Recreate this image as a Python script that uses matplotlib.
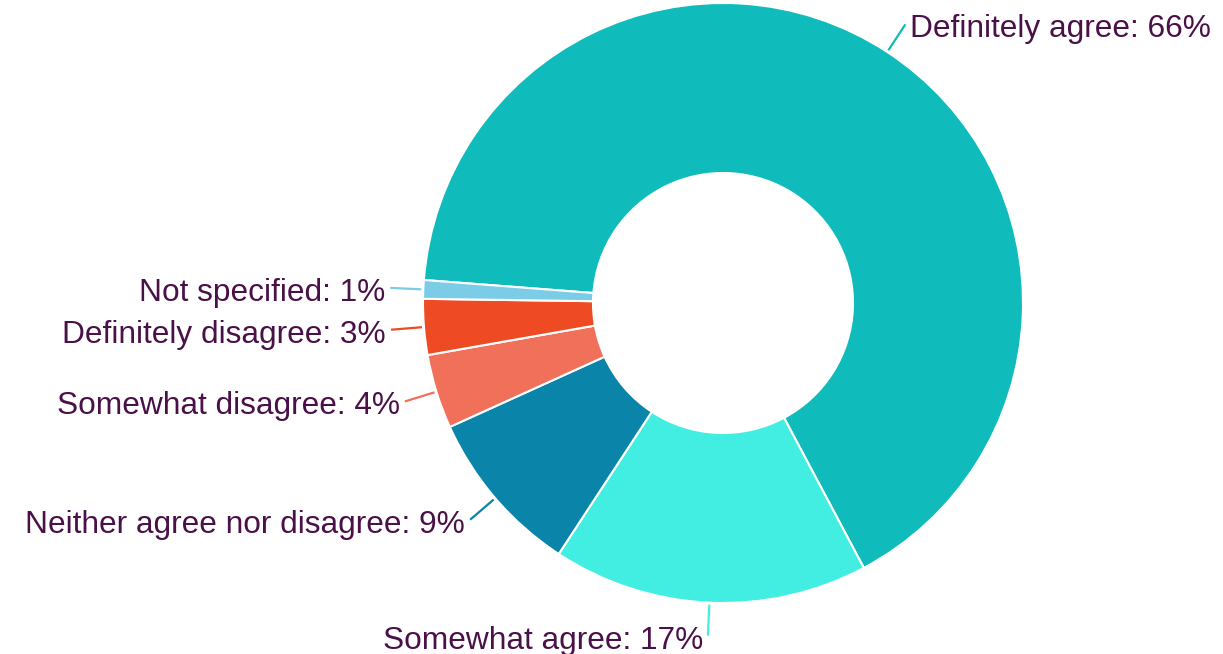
import numpy as np
import matplotlib
matplotlib.use('Agg')
import matplotlib.pyplot as plt

plt.rcParams['font.family'] = ['Liberation Sans', 'DejaVu Sans']

labels = ['Definitely agree', 'Somewhat agree', 'Neither agree nor disagree',
          'Somewhat disagree', 'Definitely disagree', 'Not specified']
values = [66, 17, 9, 4, 3, 1]
colors = ['#0fbbbb', '#42eee1', '#0b84a9', '#f1705a', '#ee4a24', '#7bcce6']

text_color = '#4a1148'
W, H = 1223, 654
cx, cy = 723, 654 - 303
R, r_in = 300, 130
start = 175.6  # degrees, counter-clockwise from +x; slices go clockwise

fig = plt.figure(figsize=(W / 100, H / 100), dpi=100)
ax = fig.add_axes([0, 0, 1, 1])

wedges, _ = ax.pie(values, colors=colors, startangle=start, counterclock=False,
                   center=(cx, cy), radius=R,
                   wedgeprops=dict(width=R - r_in, edgecolor='white', linewidth=1.5))

ax.set_xlim(0, W)
ax.set_ylim(0, H)
ax.set_aspect('equal')
ax.axis('off')

# leader lines and labels, placed radially at each slice's mid angle
for w, lab, val, col in zip(wedges, labels, values, colors):
    mid = np.deg2rad((w.theta1 + w.theta2) / 2)
    dx, dy = np.cos(mid), np.sin(mid)
    x0, y0 = cx + (R + 2) * dx, cy + (R + 2) * dy
    x1, y1 = cx + (R + 33) * dx, cy + (R + 33) * dy
    ax.plot([x0, x1], [y0, y1], color=col, lw=1.6, solid_capstyle='butt')
    ha = 'left' if dx >= 0 else 'right'
    tx = x1 + 5 if dx >= 0 else x1 - 5
    ax.text(tx, y1 - 5, f'{lab}: {val}%', ha=ha, va='center',
            fontsize=22.8, color=text_color)

fig.savefig('out.png', dpi=100, facecolor='white')
